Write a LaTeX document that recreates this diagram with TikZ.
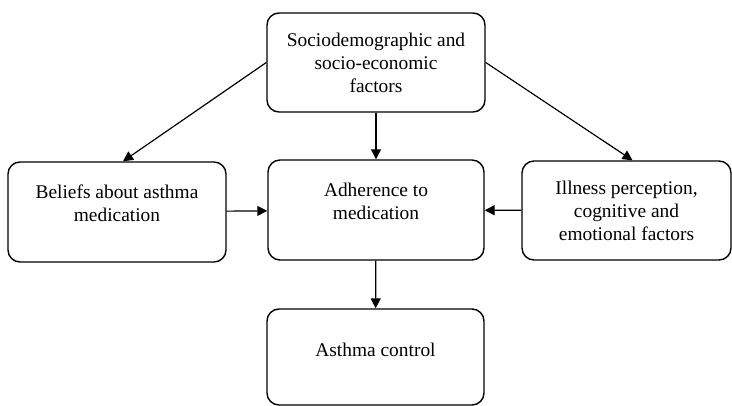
\documentclass[tikz,border=0pt]{standalone}
\usepackage{fontspec}
\setmainfont{Liberation Serif}
\usetikzlibrary{arrows.meta}

\tikzset{
  box/.style={draw, rounded corners=6pt, line width=0.7pt, align=center, inner sep=0pt},
  link/.style={draw, line width=0.6pt, -{Triangle[length=5pt, width=5pt]}}
}

\begin{document}
\begin{tikzpicture}[x=0.5pt, y=-0.5pt, font=\fontsize{9.7}{11.5}\selectfont]

    \useasboundingbox (0,0) rectangle (732,406);

    \node[box, minimum width=109pt, minimum height=49.5pt] (socio) at (376, 62.5)
      {Sociodemographic and\\socio-economic\\factors};

    \node[box, minimum width=109pt, minimum height=50pt] (beliefs) at (117, 212) {};
    \node[align=center] (beliefstext) at ([yshift=4.25pt]beliefs.center)
      {Beliefs about asthma\\medication};

    \node[box, minimum width=108pt, minimum height=50pt] (adherence) at (376, 210) {};
    \node[align=center] (adherencetext) at ([yshift=4.25pt]adherence.center)
      {Adherence to\\medication};

    \node[box, minimum width=104.5pt, minimum height=49.5pt] (illness) at (626.5, 210.5)
      {Illness perception,\\cognitive and\\emotional factors};

    \node[box, minimum width=108.5pt, minimum height=48pt] (control) at (375.5, 357) {};
    \node (controltext) at ([yshift=3.5pt]control.center) {Asthma control};

    \path[link] (socio) to (adherence);
    \path[link] (socio.west) to ([xshift=3pt]beliefs.north);
    \path[link] (socio.east) to ([xshift=3pt]illness.north);
    \path[link] (beliefs) to (adherence);
    \path[link] (illness) to (adherence);
    \path[link] (adherence) to (control);

  \end{tikzpicture}
\end{document}
